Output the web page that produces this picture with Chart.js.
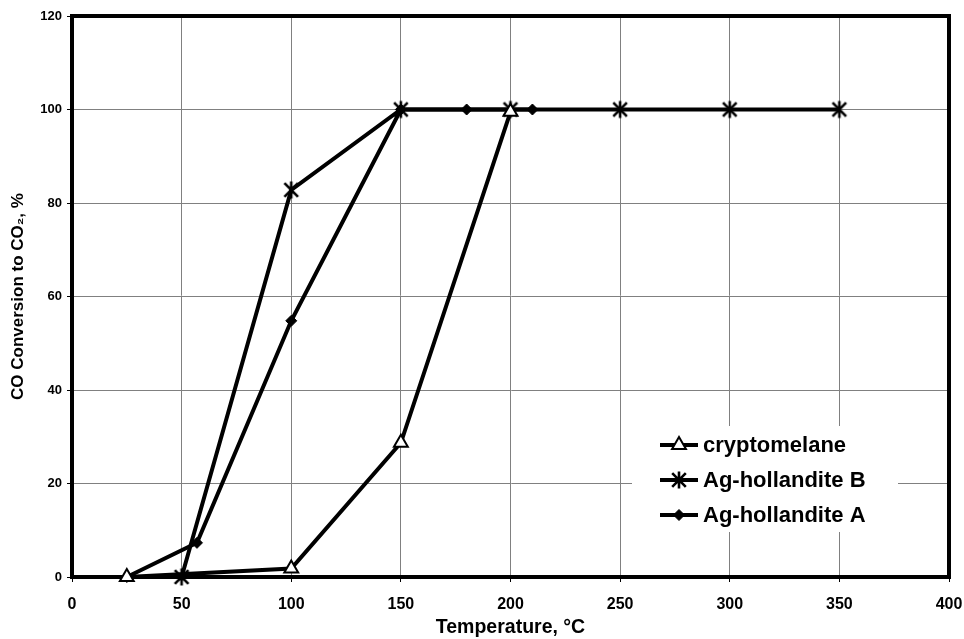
<!DOCTYPE html>
<html>
<head>
<meta charset="utf-8">
<script src="https://cdn.jsdelivr.net/npm/chart.js@4/dist/chart.umd.min.js"></script>
<style>
  html, body { margin: 0; padding: 0; background: #fff; }
  canvas { display: block; }
</style>
</head>
<body>
<canvas id="coChart" width="964" height="639"></canvas>
<script>
// ── data ──
const seriesNames = ['cryptomelane', 'Ag-hollandite B', 'Ag-hollandite A'];

const cryptoTemp = [25, 100, 150, 200];
const cryptoConv = [0, 1.8, 28.7, 99.5];

const agBTemp = [50, 100, 150, 200, 250, 300, 350];
const agBConv = [0, 82.8, 100, 100, 100, 100, 100];

const agATemp = [25, 57, 100, 150, 180, 210];
const agAConv = [0, 7.3, 54.8, 100, 100, 100];

const xTicks = [0, 50, 100, 150, 200, 250, 300, 350, 400];
const yTicks = [0, 20, 40, 60, 80, 100, 120];

const FONT = '"Liberation Sans", Arial, Helvetica, sans-serif';
Chart.defaults.font.family = FONT;
Chart.defaults.color = '#000';

// six-armed asterisk marker (Excel style)
function makeStar(size, arm, lw) {
    const c = document.createElement('canvas');
    c.width = size; c.height = size;
    const g = c.getContext('2d');
    const m = size / 2;
    g.strokeStyle = '#000';
    g.lineWidth = lw;
    g.beginPath();
    g.moveTo(m, m - arm); g.lineTo(m, m + arm);
    g.moveTo(m - arm * 0.8, m - arm * 0.8); g.lineTo(m + arm * 0.8, m + arm * 0.8);
    g.moveTo(m + arm * 0.8, m - arm * 0.8); g.lineTo(m - arm * 0.8, m + arm * 0.8);
    g.stroke();
    return c;
}
const starMark = makeStar(22, 8.5, 2.6);

const pts = (xs, ys) => xs.map((x, i) => ({ x, y: ys[i] }));

const styles = [
    { pointStyle: 'triangle', pointRadius: 8, pointBackgroundColor: '#fff', pointBorderWidth: 2 },
    { pointStyle: starMark, pointRadius: 9, pointBackgroundColor: '#000', pointBorderWidth: 0 },
    { pointStyle: 'rectRot', pointRadius: 5.5, pointBackgroundColor: '#000', pointBorderWidth: 1 }
];

const frame = {
    id: 'frame',
    beforeDatasetsDraw(chart) {
        const { ctx, chartArea: a } = chart;
        ctx.save();
        ctx.strokeStyle = '#000';
        ctx.lineWidth = 4;
        ctx.strokeRect(a.left, a.top, a.right - a.left, a.bottom - a.top);
        ctx.restore();
    }
};

const boxLegend = {
    id: 'boxLegend',
    afterDraw(chart) {
        const ctx = chart.ctx;
        ctx.save();
        ctx.fillStyle = '#fff';
        ctx.fillRect(632, 426, 266, 106);
        const rows = [445, 480, 515];
        chart.data.datasets.forEach((ds, i) => {
            const y = rows[i];
            ctx.strokeStyle = '#000';
            ctx.lineWidth = 4;
            ctx.beginPath();
            ctx.moveTo(660, y); ctx.lineTo(698, y);
            ctx.stroke();
            ctx.fillStyle = ds.pointBackgroundColor;
            ctx.strokeStyle = '#000';
            ctx.lineWidth = ds.pointBorderWidth || 1;
            Chart.helpers.drawPoint(ctx, {
                pointStyle: ds.pointStyle, radius: ds.pointRadius,
                borderWidth: ds.pointBorderWidth, rotation: 0
            }, 679, y);
            ctx.fillStyle = '#000';
            ctx.font = 'bold 22px ' + FONT;
            ctx.textBaseline = 'middle';
            ctx.textAlign = 'left';
            ctx.fillText(ds.label, 703, y + 1);
        });
        ctx.restore();
    }
};

const seriesData = [pts(cryptoTemp, cryptoConv), pts(agBTemp, agBConv), pts(agATemp, agAConv)];

new Chart(document.getElementById('coChart'), {
    type: 'scatter',
    data: {
        datasets: seriesNames.map((name, i) => Object.assign({
            label: name,
            data: seriesData[i],
            showLine: true,
            borderColor: '#000',
            borderWidth: 4,
            pointBorderColor: '#000',
            pointHoverRadius: styles[i].pointRadius,
            clip: false
        }, styles[i]))
    },
    options: {
        responsive: false,
        animation: false,
        devicePixelRatio: 1,
        layout: { padding: { left: 0, right: 15, top: 16, bottom: 0 } },
        plugins: { legend: { display: false }, tooltip: { enabled: false } },
        scales: {
            x: {
                type: 'linear', min: 0, max: 400,
                afterBuildTicks: s => { s.ticks = xTicks.map(v => ({ value: v })); },
                afterFit: s => { s.height = 62; s.paddingLeft = 0; s.paddingRight = 0; },
                grid: { color: '#808080', lineWidth: 1, tickColor: '#000', tickLength: 5 },
                border: { color: '#000', width: 4 },
                ticks: { font: { size: 16, weight: 'bold' }, padding: 13, maxRotation: 0 },
                title: { display: true, text: 'Temperature, °C', font: { size: 19.5, weight: 'bold' }, padding: 0 }
            },
            y: {
                min: 0, max: 120,
                afterBuildTicks: s => { s.ticks = yTicks.map(v => ({ value: v })); },
                afterFit: s => { s.width = 72; s.paddingTop = 0; s.paddingBottom = 0; },
                grid: { color: '#808080', lineWidth: 1, tickColor: '#000', tickLength: 5 },
                border: { color: '#000', width: 4 },
                ticks: { font: { size: 13, weight: 'bold' }, padding: 5 },
                title: { display: true, text: 'CO Conversion to CO\u2082, %', font: { size: 17, weight: 'bold' }, padding: { top: 8, bottom: 0 } }
            }
        }
    },
    plugins: [frame, boxLegend]
});
</script>
</body>
</html>
